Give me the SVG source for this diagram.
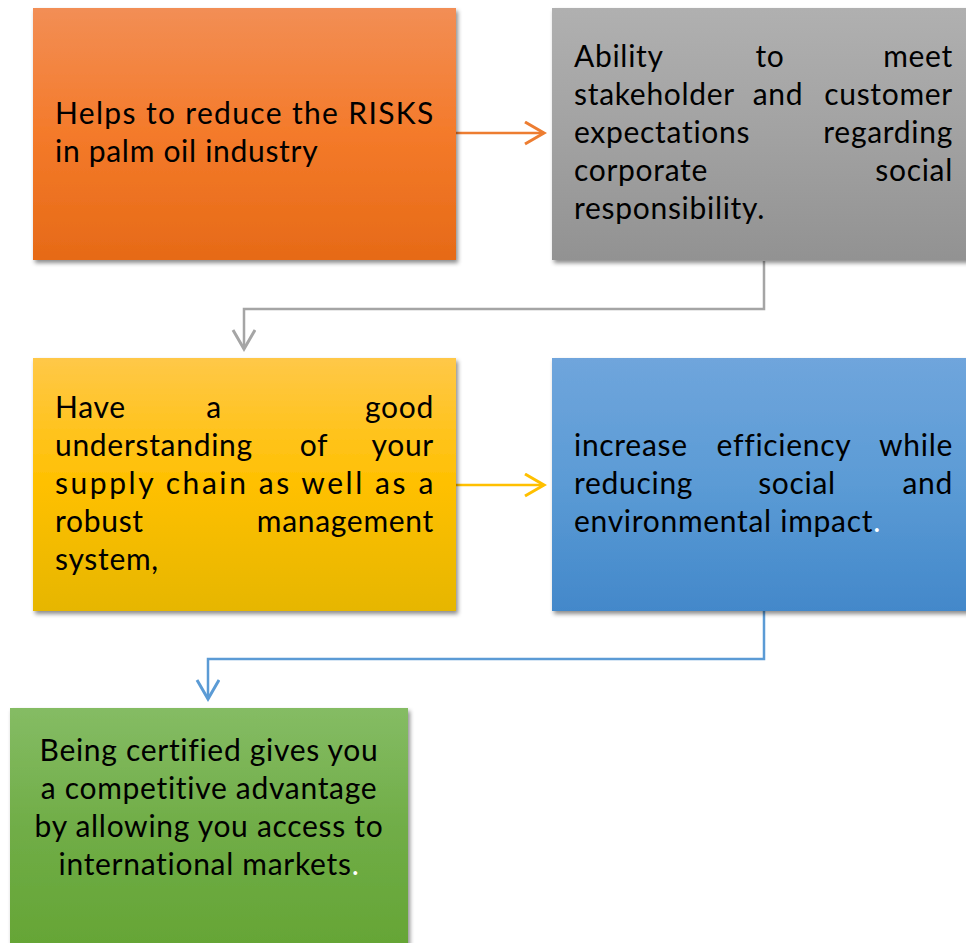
<svg xmlns="http://www.w3.org/2000/svg" width="966" height="943" viewBox="0 0 966 943">
<defs>
<linearGradient id="gOrange" x1="0" y1="0" x2="0" y2="1"><stop offset="0" stop-color="#F28E55"/><stop offset="0.5" stop-color="#F47A2A"/><stop offset="1" stop-color="#E66A17"/></linearGradient>
<linearGradient id="gGray" x1="0" y1="0" x2="0" y2="1"><stop offset="0" stop-color="#B0B0B0"/><stop offset="0.5" stop-color="#A2A2A2"/><stop offset="1" stop-color="#929292"/></linearGradient>
<linearGradient id="gYellow" x1="0" y1="0" x2="0" y2="1"><stop offset="0" stop-color="#FFC848"/><stop offset="0.5" stop-color="#FFC000"/><stop offset="1" stop-color="#E6B600"/></linearGradient>
<linearGradient id="gBlue" x1="0" y1="0" x2="0" y2="1"><stop offset="0" stop-color="#6FA5DC"/><stop offset="0.5" stop-color="#5B9BD5"/><stop offset="1" stop-color="#4388CA"/></linearGradient>
<linearGradient id="gGreen" x1="0" y1="0" x2="0" y2="1"><stop offset="0" stop-color="#85BC64"/><stop offset="0.5" stop-color="#70AD47"/><stop offset="1" stop-color="#65A535"/></linearGradient>
<filter id="sh" x="-5%" y="-5%" width="115%" height="115%"><feDropShadow dx="2" dy="3" stdDeviation="2" flood-color="#000" flood-opacity="0.45"/></filter>
<marker id="mO" markerUnits="userSpaceOnUse" markerWidth="24" markerHeight="28" refX="20" refY="12" orient="auto"><path d="M1,1 L20,12 L1,23" fill="none" stroke="#ED7D31" stroke-width="3"/></marker>
<marker id="mY" markerUnits="userSpaceOnUse" markerWidth="24" markerHeight="28" refX="20" refY="12" orient="auto"><path d="M1,1 L20,12 L1,23" fill="none" stroke="#FFC000" stroke-width="3"/></marker>
<marker id="mG" markerUnits="userSpaceOnUse" markerWidth="24" markerHeight="28" refX="20" refY="12" orient="auto"><path d="M1,1 L20,12 L1,23" fill="none" stroke="#A5A5A5" stroke-width="3"/></marker>
<marker id="mB" markerUnits="userSpaceOnUse" markerWidth="24" markerHeight="28" refX="20" refY="12" orient="auto"><path d="M1,1 L20,12 L1,23" fill="none" stroke="#5B9BD5" stroke-width="3"/></marker>
</defs>
<style>
text{font-family:Lato,"Open Sans","Liberation Sans",sans-serif;font-size:30px;letter-spacing:0.7px;fill:#000}
.e{text-anchor:end}
.m{text-anchor:middle}
.w{fill:#fff}
.box{filter:url(#sh)}
.c{fill:none;stroke-width:2.5}
</style>
<g id="connectors">
<line class="c" x1="456" y1="133" x2="544" y2="133" stroke="#ED7D31" marker-end="url(#mO)"/>
<polyline class="c" points="764,261 764,309 244,309 244,349" stroke="#A5A5A5" marker-end="url(#mG)"/>
<line class="c" x1="456" y1="485" x2="544" y2="485" stroke="#FFC000" marker-end="url(#mY)"/>
<polyline class="c" points="764,611 764,659 208,659 208,699" stroke="#5B9BD5" marker-end="url(#mB)"/>
</g>
<g id="node1">
<rect class="box" x="33" y="8" width="423" height="252" fill="url(#gOrange)"/>
<text x="55" y="124" textLength="379" lengthAdjust="spacing">Helps to reduce the RISKS</text>
<text x="55" y="162">in palm oil industry</text>
</g>
<g id="node2">
<rect class="box" x="552" y="8" width="420" height="252" fill="url(#gGray)"/>
<text x="574" y="67">Ability</text><text class="m" x="770" y="67">to</text><text class="e" x="953" y="67">meet</text>
<text x="574" y="105">stakeholder</text><text class="m" x="778" y="105">and</text><text class="e" x="953" y="105">customer</text>
<text x="574" y="143">expectations</text><text class="e" x="953" y="143">regarding</text>
<text x="574" y="181">corporate</text><text class="e" x="953" y="181">social</text>
<text x="574" y="219">responsibility.</text>
</g>
<g id="node3">
<rect class="box" x="33" y="358" width="423" height="253" fill="url(#gYellow)"/>
<text x="55" y="418">Have</text><text class="m" x="214" y="418">a</text><text class="e" x="434" y="418">good</text>
<text x="55" y="456">understanding</text><text class="m" x="314" y="456">of</text><text class="e" x="434" y="456">your</text>
<text x="55" y="494" textLength="379" lengthAdjust="spacing">supply chain as well as a</text>
<text x="55" y="532">robust</text><text class="e" x="434" y="532">management</text>
<text x="55" y="570">system,</text>
</g>
<g id="node4">
<rect class="box" x="552" y="358" width="420" height="253" fill="url(#gBlue)"/>
<text x="574" y="456">increase</text><text class="m" x="784" y="456">efficiency</text><text class="e" x="953" y="456">while</text>
<text x="574" y="494">reducing</text><text class="m" x="797" y="494">social</text><text class="e" x="953" y="494">and</text>
<text x="574" y="532">environmental impact<tspan class="w">.</tspan></text>
</g>
<g id="node5">
<rect class="box" x="10" y="708" width="398" height="240" fill="url(#gGreen)"/>
<text class="m" x="209" y="761">Being certified gives you</text>
<text class="m" x="209" y="799">a competitive advantage</text>
<text class="m" x="209" y="837">by allowing you access to</text>
<text class="m" x="209" y="875">international markets<tspan class="w">.</tspan></text>
</g>
</svg>
